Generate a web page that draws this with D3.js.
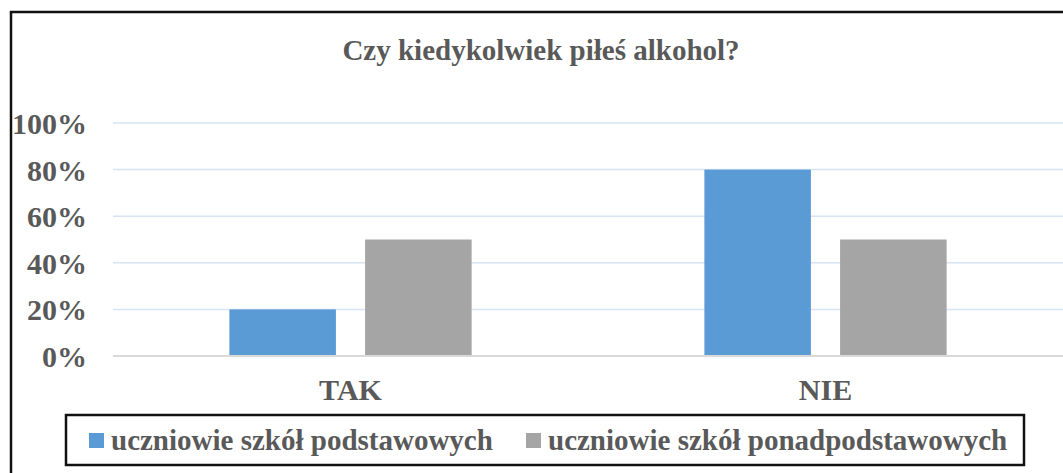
<!DOCTYPE html>
<html>
<head>
<meta charset="utf-8">
<script src="https://cdn.jsdelivr.net/npm/d3@7"></script>
<style>
  body { margin: 0; background: #fff; }
  svg text { font-family: "Liberation Serif", "Times New Roman", Tinos, "DejaVu Serif", serif !important; font-weight: bold; fill: #595959; }
</style>
</head>
<body>
<div id="chart"></div>
<script>
// Data.
const title = "Czy kiedykolwiek piłeś alkohol?";
const categories = ["TAK", "NIE"];
const seriesNames = ["uczniowie szkół podstawowych", "uczniowie szkół ponadpodstawowych"];
const primaryValues = [20, 80];    // uczniowie szkół podstawowych
const secondaryValues = [50, 50];  // uczniowie szkół ponadpodstawowych
const yTicks = [0, 20, 40, 60, 80, 100];
const colors = ["#5b9bd5", "#a5a5a5"];

const seriesValues = [primaryValues, secondaryValues];

const width = 1063, height = 473;

const svg = d3.select("#chart").append("svg")
  .attr("width", width)
  .attr("height", height);

// Outer frame (runs off the right and bottom edges, as in the picture).
svg.append("rect")
  .attr("x", 11)
  .attr("y", 12)
  .attr("width", 1100)
  .attr("height", 500)
  .attr("fill", "none")
  .attr("stroke", "#111")
  .attr("stroke-width", 2.5);

// Title
svg.append("text")
  .attr("x", 541)
  .attr("y", 60)
  .attr("text-anchor", "middle")
  .attr("font-size", "29px")
  .text(title);

// Scales
const plotLeft = 113, plotRight = 1063;
const x0 = d3.scaleBand()
  .domain(categories)
  .range([plotLeft, plotRight])
  .paddingInner(0.49)
  .paddingOuter(0.245);

const x1 = d3.scaleBand()
  .domain(seriesNames)
  .range([0, x0.bandwidth()])
  .paddingInner(0.215);

const y = d3.scaleLinear()
  .domain([0, 100])
  .range([356, 123]);

// Gridlines
svg.append("g")
  .selectAll("line")
  .data(yTicks.filter(d => d > 0))
  .enter().append("line")
  .attr("x1", plotLeft)
  .attr("x2", plotRight)
  .attr("y1", d => y(d))
  .attr("y2", d => y(d))
  .attr("stroke", "#d6e4f3")
  .attr("stroke-width", 1.5);

// Y axis labels
const yAxis = svg.append("g")
  .attr("transform", `translate(${plotLeft},0)`)
  .call(d3.axisLeft(y).tickValues(yTicks).tickFormat(d => d + "%").tickSize(0).tickPadding(26));
yAxis.select(".domain").remove();
yAxis.selectAll("text")
  .attr("font-size", "30px")
  .attr("dy", "0.35em");

// Bars
const groups = svg.append("g")
  .selectAll("g")
  .data(categories)
  .enter().append("g")
  .attr("transform", d => `translate(${x0(d)},0)`);

groups.selectAll("rect")
  .data((d, i) => seriesNames.map((s, j) => ({ series: s, value: seriesValues[j][i], color: colors[j] })))
  .enter().append("rect")
  .attr("x", d => x1(d.series))
  .attr("y", d => y(d.value))
  .attr("width", x1.bandwidth())
  .attr("height", d => y(0) - y(d.value))
  .attr("fill", d => d.color);

// Baseline
svg.append("line")
  .attr("x1", plotLeft)
  .attr("x2", plotRight)
  .attr("y1", y(0))
  .attr("y2", y(0))
  .attr("stroke", "#d9d9d9")
  .attr("stroke-width", 2);

// Category labels
const xAxis = svg.append("g")
  .attr("transform", `translate(0,${y(0)})`)
  .call(d3.axisBottom(x0).tickSize(0).tickPadding(23));
xAxis.select(".domain").remove();
xAxis.selectAll("text")
  .attr("font-size", "30px");

// Legend
svg.append("rect")
  .attr("x", 66)
  .attr("y", 415)
  .attr("width", 958)
  .attr("height", 50)
  .attr("fill", "#fff")
  .attr("stroke", "#111")
  .attr("stroke-width", 2.5);

const legendX = [89, 526];
const legendItems = svg.append("g")
  .selectAll("g")
  .data(seriesNames)
  .enter().append("g")
  .attr("transform", (d, i) => `translate(${legendX[i]},433)`);

legendItems.append("rect")
  .attr("width", 15)
  .attr("height", 15)
  .attr("fill", (d, i) => colors[i]);

legendItems.append("text")
  .attr("x", 22)
  .attr("y", 17)
  .attr("font-size", "29px")
  .text(d => d);
</script>
</body>
</html>
